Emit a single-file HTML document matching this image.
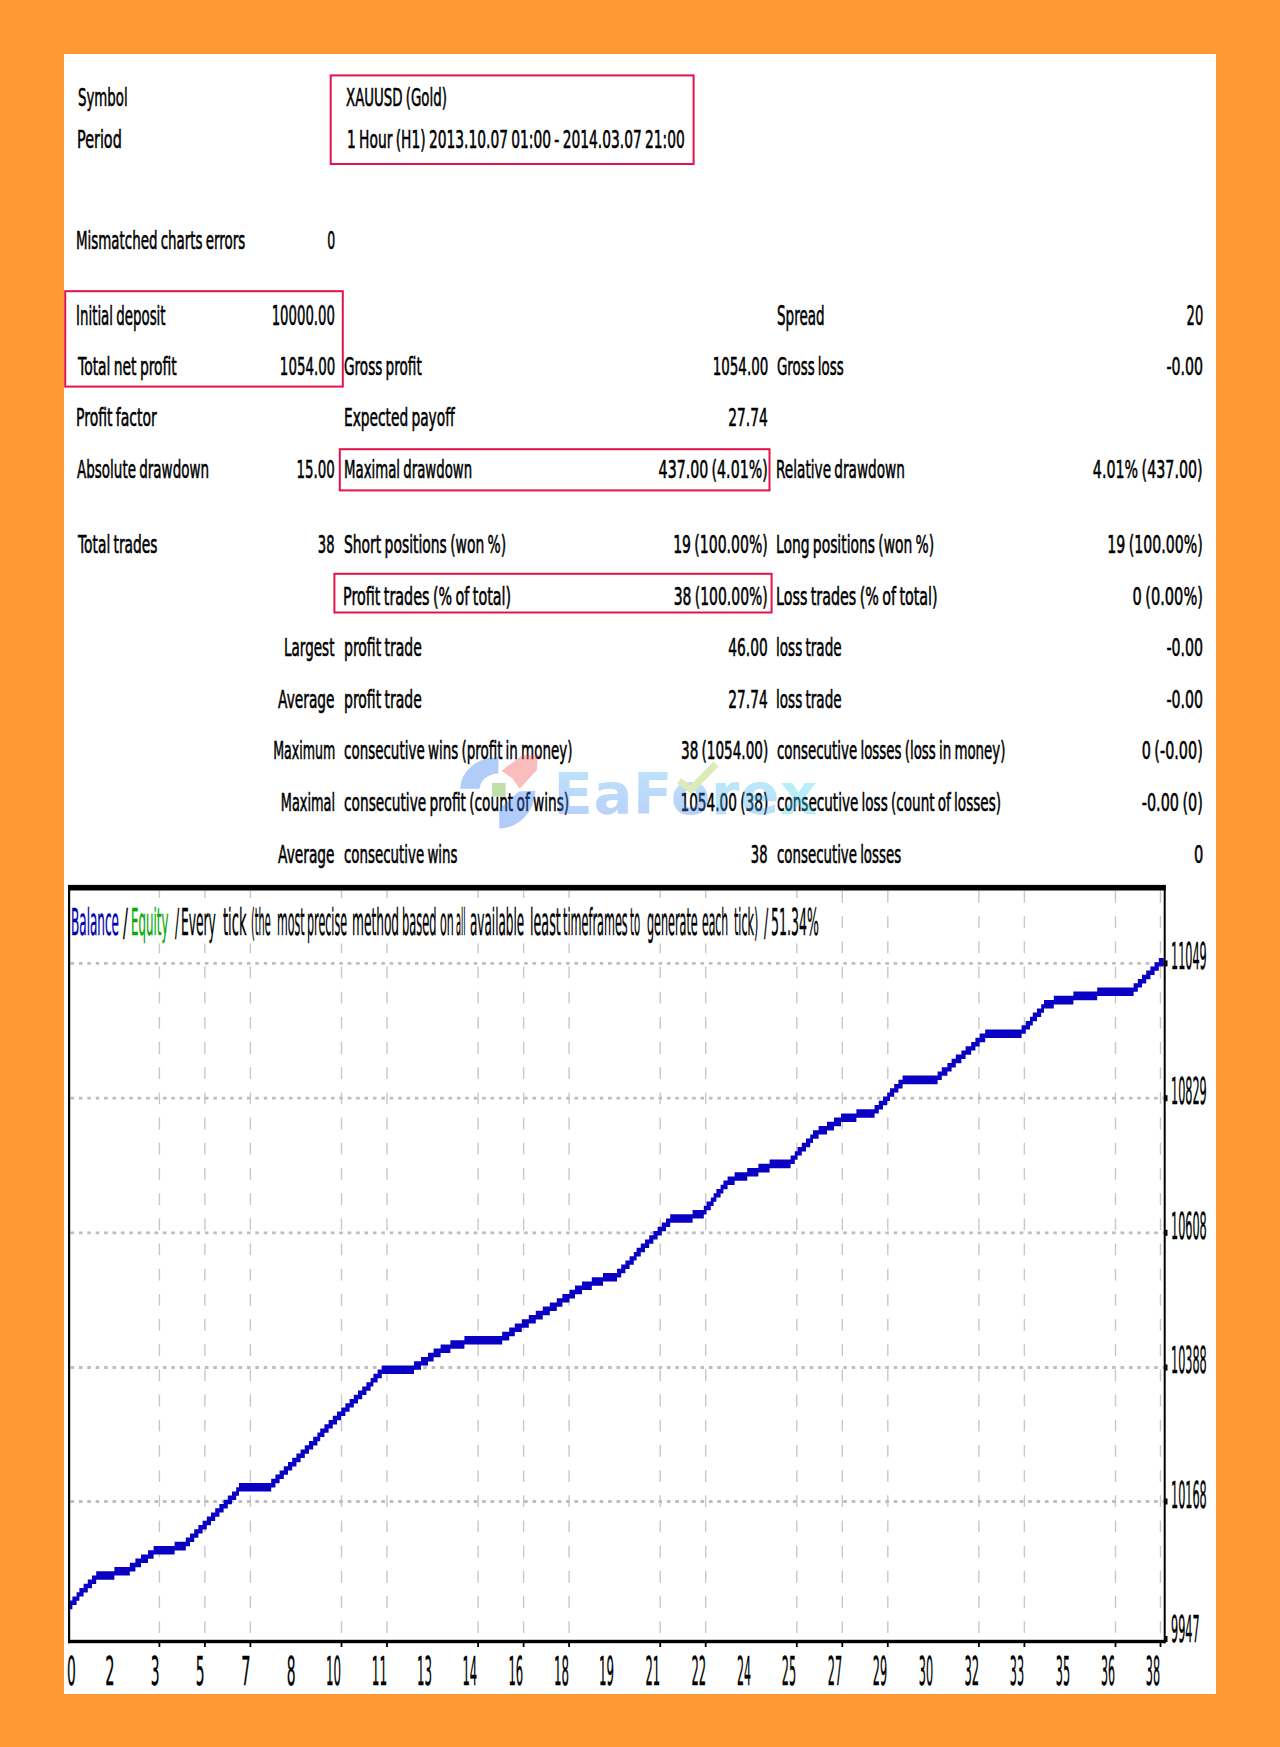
<!DOCTYPE html>
<html lang="en"><head><meta charset="utf-8"><title>Strategy Tester Report</title>
<style>
html,body{margin:0;padding:0}
body{width:1280px;height:1747px;background:#ff9933;position:relative;overflow:hidden;font-family:"DejaVu Sans", "Liberation Sans", sans-serif;color:#000}
#panel{position:absolute;left:64px;top:54px;width:1152px;height:1640px;background:#fff}
.t{position:absolute;white-space:pre;line-height:normal;transform-origin:0 0;-webkit-text-stroke:0.6px currentColor;word-spacing:-0.08em}
.t.r{transform-origin:100% 0}
.c{-webkit-text-stroke-width:.4px}
svg{position:absolute;left:0;top:0}
</style></head><body>
<div id="panel"></div>

<svg width="1280" height="1747" viewBox="0 0 1280 1747">
<rect x="330.70" y="75.40" width="362.90" height="88.60" fill="none" stroke="#e3124a" stroke-width="2.0"/>
<rect x="65.20" y="291.20" width="277.60" height="95.40" fill="none" stroke="#e3124a" stroke-width="2.0"/>
<rect x="339.80" y="449.20" width="429.70" height="41.20" fill="none" stroke="#e3124a" stroke-width="2.0"/>
<rect x="334.40" y="573.80" width="437.20" height="38.70" fill="none" stroke="#e3124a" stroke-width="2.0"/>
</svg>
<div class="t" style="left:77.61px;top:83.7px;font-size:24.0px;transform:scaleX(0.5553);">Symbol</div>
<div class="t" style="left:346.17px;top:83.7px;font-size:24.0px;transform:scaleX(0.5566);">XAUUSD (Gold)</div>
<div class="t" style="left:76.98px;top:126.0px;font-size:24.0px;transform:scaleX(0.5983);">Period</div>
<div class="t" style="left:346.52px;top:126.0px;font-size:24.0px;transform:scaleX(0.5756);">1 Hour (H1) 2013.10.07 01:00 - 2014.03.07 21:00</div>
<div class="t" style="left:75.55px;top:226.7px;font-size:24.0px;transform:scaleX(0.5589);">Mismatched charts errors</div>
<div class="t r" style="right:944.99px;top:226.7px;font-size:24.0px;transform:scaleX(0.5221);">0</div>
<div class="t" style="left:76.04px;top:300.6px;font-size:26.2px;transform:scaleX(0.5112);">Initial deposit</div>
<div class="t r" style="right:944.95px;top:300.6px;font-size:26.2px;transform:scaleX(0.5064);">10000.00</div>
<div class="t" style="left:776.59px;top:300.6px;font-size:26.2px;transform:scaleX(0.5165);">Spread</div>
<div class="t r" style="right:76.95px;top:300.6px;font-size:26.2px;transform:scaleX(0.5022);">20</div>
<div class="t" style="left:77.75px;top:352.7px;font-size:24.0px;transform:scaleX(0.5791);">Total net profit</div>
<div class="t r" style="right:944.96px;top:352.7px;font-size:24.0px;transform:scaleX(0.5581);">1054.00</div>
<div class="t" style="left:344.10px;top:352.7px;font-size:24.0px;transform:scaleX(0.5671);">Gross profit</div>
<div class="t r" style="right:512.06px;top:352.7px;font-size:24.0px;transform:scaleX(0.5591);">1054.00</div>
<div class="t" style="left:776.61px;top:352.7px;font-size:24.0px;transform:scaleX(0.5573);">Gross loss</div>
<div class="t r" style="right:76.93px;top:352.7px;font-size:24.0px;transform:scaleX(0.5908);">-0.00</div>
<div class="t" style="left:76.01px;top:404.2px;font-size:24.0px;transform:scaleX(0.5832);">Profit factor</div>
<div class="t" style="left:343.53px;top:404.2px;font-size:24.0px;transform:scaleX(0.5731);">Expected payoff</div>
<div class="t r" style="right:512.04px;top:404.2px;font-size:24.0px;transform:scaleX(0.5758);">27.74</div>
<div class="t" style="left:77.17px;top:455.7px;font-size:24.0px;transform:scaleX(0.5624);">Absolute drawdown</div>
<div class="t r" style="right:944.96px;top:455.7px;font-size:24.0px;transform:scaleX(0.5573);">15.00</div>
<div class="t" style="left:343.56px;top:455.7px;font-size:24.0px;transform:scaleX(0.5549);">Maximal drawdown</div>
<div class="t r" style="right:511.97px;top:455.7px;font-size:24.0px;transform:scaleX(0.5905);">437.00 (4.01%)</div>
<div class="t" style="left:776.03px;top:455.7px;font-size:24.0px;transform:scaleX(0.5686);">Relative drawdown</div>
<div class="t r" style="right:76.87px;top:455.7px;font-size:24.0px;transform:scaleX(0.5949);">4.01% (437.00)</div>
<div class="t" style="left:77.75px;top:531.2px;font-size:24.0px;transform:scaleX(0.5748);">Total trades</div>
<div class="t r" style="right:944.97px;top:531.2px;font-size:24.0px;transform:scaleX(0.5473);">38</div>
<div class="t" style="left:344.09px;top:531.2px;font-size:24.0px;transform:scaleX(0.5787);">Short positions (won %)</div>
<div class="t r" style="right:511.98px;top:531.2px;font-size:24.0px;transform:scaleX(0.5849);">19 (100.00%)</div>
<div class="t" style="left:776.02px;top:531.2px;font-size:24.0px;transform:scaleX(0.5777);">Long positions (won %)</div>
<div class="t r" style="right:76.87px;top:531.2px;font-size:24.0px;transform:scaleX(0.5900);">19 (100.00%)</div>
<div class="t" style="left:343.48px;top:582.9px;font-size:24.0px;transform:scaleX(0.5974);">Profit trades (% of total)</div>
<div class="t r" style="right:511.98px;top:582.9px;font-size:24.0px;transform:scaleX(0.5813);">38 (100.00%)</div>
<div class="t" style="left:775.99px;top:582.9px;font-size:24.0px;transform:scaleX(0.5954);">Loss trades (% of total)</div>
<div class="t r" style="right:76.85px;top:582.9px;font-size:24.0px;transform:scaleX(0.6078);">0 (0.00%)</div>
<div class="t r" style="right:945.34px;top:634.4px;font-size:24.0px;transform:scaleX(0.5638);">Largest</div>
<div class="t" style="left:343.51px;top:634.4px;font-size:24.0px;transform:scaleX(0.5826);">profit trade</div>
<div class="t r" style="right:512.04px;top:634.4px;font-size:24.0px;transform:scaleX(0.5728);">46.00</div>
<div class="t" style="left:776.04px;top:634.4px;font-size:24.0px;transform:scaleX(0.5655);">loss trade</div>
<div class="t r" style="right:76.93px;top:634.4px;font-size:24.0px;transform:scaleX(0.5908);">-0.00</div>
<div class="t r" style="right:945.13px;top:685.8px;font-size:24.0px;transform:scaleX(0.5732);">Average</div>
<div class="t" style="left:343.51px;top:685.8px;font-size:24.0px;transform:scaleX(0.5826);">profit trade</div>
<div class="t r" style="right:512.04px;top:685.8px;font-size:24.0px;transform:scaleX(0.5728);">27.74</div>
<div class="t" style="left:776.04px;top:685.8px;font-size:24.0px;transform:scaleX(0.5655);">loss trade</div>
<div class="t r" style="right:76.93px;top:685.8px;font-size:24.0px;transform:scaleX(0.5908);">-0.00</div>
<div class="t r" style="right:944.83px;top:737.4px;font-size:24.0px;transform:scaleX(0.5248);">Maximum</div>
<div class="t" style="left:344.11px;top:737.4px;font-size:24.0px;transform:scaleX(0.5610);">consecutive wins (profit in money)</div>
<div class="t r" style="right:512.00px;top:737.4px;font-size:24.0px;transform:scaleX(0.5654);">38 (1054.00)</div>
<div class="t" style="left:776.61px;top:737.4px;font-size:24.0px;transform:scaleX(0.5580);">consecutive losses (loss in money)</div>
<div class="t r" style="right:76.86px;top:737.4px;font-size:24.0px;transform:scaleX(0.5998);">0 (-0.00)</div>
<div class="t r" style="right:944.67px;top:789.1px;font-size:24.0px;transform:scaleX(0.5369);">Maximal</div>
<div class="t" style="left:344.10px;top:789.1px;font-size:24.0px;transform:scaleX(0.5716);">consecutive profit (count of wins)</div>
<div class="t r" style="right:511.99px;top:789.1px;font-size:24.0px;transform:scaleX(0.5691);">1054.00 (38)</div>
<div class="t" style="left:776.60px;top:789.1px;font-size:24.0px;transform:scaleX(0.5654);">consecutive loss (count of losses)</div>
<div class="t r" style="right:76.86px;top:789.1px;font-size:24.0px;transform:scaleX(0.5998);">-0.00 (0)</div>
<div class="t r" style="right:945.13px;top:840.5px;font-size:24.0px;transform:scaleX(0.5732);">Average</div>
<div class="t" style="left:344.11px;top:840.5px;font-size:24.0px;transform:scaleX(0.5577);">consecutive wins</div>
<div class="t r" style="right:512.07px;top:840.5px;font-size:24.0px;transform:scaleX(0.5473);">38</div>
<div class="t" style="left:776.61px;top:840.5px;font-size:24.0px;transform:scaleX(0.5561);">consecutive losses</div>
<div class="t r" style="right:76.91px;top:840.5px;font-size:24.0px;transform:scaleX(0.6103);">0</div>
<svg width="1280" height="1747" viewBox="0 0 1280 1747">
<line x1="159.4" y1="891" x2="159.4" y2="1640" stroke="#c8c8c8" stroke-width="1.4" stroke-dasharray="11.8 13.38"/>
<line x1="204.9" y1="891" x2="204.9" y2="1640" stroke="#c8c8c8" stroke-width="1.4" stroke-dasharray="11.8 13.38"/>
<line x1="250.4" y1="891" x2="250.4" y2="1640" stroke="#c8c8c8" stroke-width="1.4" stroke-dasharray="11.8 13.38"/>
<line x1="341.5" y1="891" x2="341.5" y2="1640" stroke="#c8c8c8" stroke-width="1.4" stroke-dasharray="11.8 13.38"/>
<line x1="387.0" y1="891" x2="387.0" y2="1640" stroke="#c8c8c8" stroke-width="1.4" stroke-dasharray="11.8 13.38"/>
<line x1="478.1" y1="891" x2="478.1" y2="1640" stroke="#c8c8c8" stroke-width="1.4" stroke-dasharray="11.8 13.38"/>
<line x1="523.6" y1="891" x2="523.6" y2="1640" stroke="#c8c8c8" stroke-width="1.4" stroke-dasharray="11.8 13.38"/>
<line x1="569.1" y1="891" x2="569.1" y2="1640" stroke="#c8c8c8" stroke-width="1.4" stroke-dasharray="11.8 13.38"/>
<line x1="660.2" y1="891" x2="660.2" y2="1640" stroke="#c8c8c8" stroke-width="1.4" stroke-dasharray="11.8 13.38"/>
<line x1="705.7" y1="891" x2="705.7" y2="1640" stroke="#c8c8c8" stroke-width="1.4" stroke-dasharray="11.8 13.38"/>
<line x1="796.8" y1="891" x2="796.8" y2="1640" stroke="#c8c8c8" stroke-width="1.4" stroke-dasharray="11.8 13.38"/>
<line x1="842.3" y1="891" x2="842.3" y2="1640" stroke="#c8c8c8" stroke-width="1.4" stroke-dasharray="11.8 13.38"/>
<line x1="887.8" y1="891" x2="887.8" y2="1640" stroke="#c8c8c8" stroke-width="1.4" stroke-dasharray="11.8 13.38"/>
<line x1="978.9" y1="891" x2="978.9" y2="1640" stroke="#c8c8c8" stroke-width="1.4" stroke-dasharray="11.8 13.38"/>
<line x1="1024.4" y1="891" x2="1024.4" y2="1640" stroke="#c8c8c8" stroke-width="1.4" stroke-dasharray="11.8 13.38"/>
<line x1="1115.5" y1="891" x2="1115.5" y2="1640" stroke="#c8c8c8" stroke-width="1.4" stroke-dasharray="11.8 13.38"/>
<line x1="1160.5" y1="891" x2="1160.5" y2="1640" stroke="#c8c8c8" stroke-width="1.4" stroke-dasharray="11.8 13.38"/>
<rect x="70.5" y="898" width="752" height="45.5" fill="#fff"/>
<line x1="70.5" y1="963.4" x2="1164" y2="963.4" stroke="#bebebe" stroke-width="2.8" stroke-dasharray="3.6 4.8"/>
<line x1="70.5" y1="1098.2" x2="1164" y2="1098.2" stroke="#bebebe" stroke-width="2.8" stroke-dasharray="3.6 4.8"/>
<line x1="70.5" y1="1232.8" x2="1164" y2="1232.8" stroke="#bebebe" stroke-width="2.8" stroke-dasharray="3.6 4.8"/>
<line x1="70.5" y1="1367.5" x2="1164" y2="1367.5" stroke="#bebebe" stroke-width="2.8" stroke-dasharray="3.6 4.8"/>
<line x1="70.5" y1="1501.5" x2="1164" y2="1501.5" stroke="#bebebe" stroke-width="2.8" stroke-dasharray="3.6 4.8"/>
<path fill="#0a00c4" d="M69.6,1600.6H72.4V1596.4H76.6V1592.2H79.4V1588.0H83.6V1583.8H87.8V1579.6H92.0V1575.4H96.2V1571.2H114.4V1567.0H129.8V1562.8H135.4V1558.6H141.0V1554.4H148.0V1550.2H153.6V1546.0H174.6V1541.8H185.8V1537.6H190.0V1533.4H194.2V1529.2H198.4V1525.0H202.6V1520.8H206.8V1516.6H211.0V1512.4H215.2V1508.2H219.4V1504.0H223.6V1499.8H227.8V1495.6H232.0V1491.4H236.2V1487.2H239.0V1483.0H271.2V1478.8H275.4V1474.6H279.6V1470.4H283.8V1466.2H288.0V1462.0H292.2V1457.8H296.4V1453.6H300.6V1449.4H304.8V1445.2H309.0V1441.0H313.2V1436.8H317.4V1432.6H320.2V1428.4H324.4V1424.2H328.6V1420.0H332.8V1415.8H337.0V1411.6H341.2V1407.4H345.4V1403.2H349.6V1399.0H353.8V1394.8H358.0V1390.6H362.2V1386.4H366.4V1382.2H370.6V1378.0H373.4V1373.8H377.6V1369.6H381.8V1365.4H414.0V1361.2H421.0V1357.0H428.0V1352.8H433.6V1348.6H440.6V1344.4H450.4V1340.2H464.4V1336.0H502.2V1331.8H509.2V1327.6H514.8V1323.4H521.8V1319.2H528.8V1315.0H535.8V1310.8H542.8V1306.6H549.8V1302.4H556.8V1298.2H562.4V1294.0H569.4V1289.8H575.0V1285.6H582.0V1281.4H591.8V1277.2H603.0V1273.0H617.0V1268.8H621.2V1264.6H625.4V1260.4H629.6V1256.2H633.8V1252.0H636.6V1247.8H640.8V1243.6H645.0V1239.4H649.2V1235.2H653.4V1231.0H657.6V1226.8H661.8V1222.6H666.0V1218.4H670.2V1214.2H692.6V1210.0H703.8V1205.8H706.6V1201.6H710.8V1197.4H713.6V1193.2H716.4V1189.0H720.6V1184.8H723.4V1180.6H727.6V1176.4H734.6V1172.2H747.2V1168.0H758.4V1163.8H769.6V1159.6H790.6V1155.4H794.8V1151.2H797.6V1147.0H801.8V1142.8H806.0V1138.6H810.2V1134.4H813.0V1130.2H818.6V1126.0H827.0V1121.8H834.0V1117.6H841.0V1113.4H856.4V1109.2H874.6V1105.0H878.8V1100.8H883.0V1096.6H887.2V1092.4H890.0V1088.2H894.2V1084.0H898.4V1079.8H902.6V1075.6H937.6V1071.4H941.8V1067.2H947.4V1063.0H951.6V1058.8H955.8V1054.6H961.4V1050.4H965.6V1046.2H971.2V1042.0H975.4V1037.8H979.6V1033.6H985.2V1029.4H1021.6V1025.2H1025.8V1021.0H1030.0V1016.8H1032.8V1012.6H1037.0V1008.4H1041.2V1004.2H1044.0V1000.0H1053.8V995.8H1073.4V991.6H1097.2V987.4H1133.6V983.2H1137.8V979.0H1142.0V974.8H1146.2V970.6H1150.4V966.4H1154.6V962.2H1158.8V958.0H1163.8V966.6H1158.8V970.8H1154.6V975.0H1150.4V979.2H1146.2V983.4H1142.0V987.6H1137.8V991.8H1133.6V996.0H1097.2V1000.2H1073.4V1004.4H1053.8V1008.6H1044.0V1012.8H1041.2V1017.0H1037.0V1021.2H1032.8V1025.4H1030.0V1029.6H1025.8V1033.8H1021.6V1038.0H985.2V1042.2H979.6V1046.4H975.4V1050.6H971.2V1054.8H965.6V1059.0H961.4V1063.2H955.8V1067.4H951.6V1071.6H947.4V1075.8H941.8V1080.0H937.6V1084.2H902.6V1088.4H898.4V1092.6H894.2V1096.8H890.0V1101.0H887.2V1105.2H883.0V1109.4H878.8V1113.6H874.6V1117.8H856.4V1122.0H841.0V1126.2H834.0V1130.4H827.0V1134.6H818.6V1138.8H813.0V1143.0H810.2V1147.2H806.0V1151.4H801.8V1155.6H797.6V1159.8H794.8V1164.0H790.6V1168.2H769.6V1172.4H758.4V1176.6H747.2V1180.8H734.6V1185.0H727.6V1189.2H723.4V1193.4H720.6V1197.6H716.4V1201.8H713.6V1206.0H710.8V1210.2H706.6V1214.4H703.8V1218.6H692.6V1222.8H670.2V1227.0H666.0V1231.2H661.8V1235.4H657.6V1239.6H653.4V1243.8H649.2V1248.0H645.0V1252.2H640.8V1256.4H636.6V1260.6H633.8V1264.8H629.6V1269.0H625.4V1273.2H621.2V1277.4H617.0V1281.6H603.0V1285.8H591.8V1290.0H582.0V1294.2H575.0V1298.4H569.4V1302.6H562.4V1306.8H556.8V1311.0H549.8V1315.2H542.8V1319.4H535.8V1323.6H528.8V1327.8H521.8V1332.0H514.8V1336.2H509.2V1340.4H502.2V1344.6H464.4V1348.8H450.4V1353.0H440.6V1357.2H433.6V1361.4H428.0V1365.6H421.0V1369.8H414.0V1374.0H381.8V1378.2H377.6V1382.4H373.4V1386.6H370.6V1390.8H366.4V1395.0H362.2V1399.2H358.0V1403.4H353.8V1407.6H349.6V1411.8H345.4V1416.0H341.2V1420.2H337.0V1424.4H332.8V1428.6H328.6V1432.8H324.4V1437.0H320.2V1441.2H317.4V1445.4H313.2V1449.6H309.0V1453.8H304.8V1458.0H300.6V1462.2H296.4V1466.4H292.2V1470.6H288.0V1474.8H283.8V1479.0H279.6V1483.2H275.4V1487.4H271.2V1491.6H239.0V1495.8H236.2V1500.0H232.0V1504.2H227.8V1508.4H223.6V1512.6H219.4V1516.8H215.2V1521.0H211.0V1525.2H206.8V1529.4H202.6V1533.6H198.4V1537.8H194.2V1542.0H190.0V1546.2H185.8V1550.4H174.6V1554.6H153.6V1558.8H148.0V1563.0H141.0V1567.2H135.4V1571.4H129.8V1575.6H114.4V1579.8H96.2V1584.0H92.0V1588.2H87.8V1592.4H83.6V1596.6H79.4V1600.8H76.6V1605.0H72.4V1609.2H69.6Z"/>
<rect x="68" y="884.9" width="1097.7" height="5.6" fill="#000"/>
<rect x="68" y="885" width="2.2" height="758.2" fill="#000"/>
<rect x="1163.7" y="885" width="2.0" height="758.2" fill="#000"/>
<rect x="68" y="1639.8" width="1097.7" height="3.4" fill="#000"/>
<rect x="158.5" y="1643" width="1.8" height="4" fill="#000"/>
<rect x="204.0" y="1643" width="1.8" height="4" fill="#000"/>
<rect x="249.5" y="1643" width="1.8" height="4" fill="#000"/>
<rect x="340.6" y="1643" width="1.8" height="4" fill="#000"/>
<rect x="386.1" y="1643" width="1.8" height="4" fill="#000"/>
<rect x="477.2" y="1643" width="1.8" height="4" fill="#000"/>
<rect x="522.7" y="1643" width="1.8" height="4" fill="#000"/>
<rect x="568.2" y="1643" width="1.8" height="4" fill="#000"/>
<rect x="659.3" y="1643" width="1.8" height="4" fill="#000"/>
<rect x="704.8" y="1643" width="1.8" height="4" fill="#000"/>
<rect x="795.9" y="1643" width="1.8" height="4" fill="#000"/>
<rect x="841.4" y="1643" width="1.8" height="4" fill="#000"/>
<rect x="886.9" y="1643" width="1.8" height="4" fill="#000"/>
<rect x="978.0" y="1643" width="1.8" height="4" fill="#000"/>
<rect x="1023.5" y="1643" width="1.8" height="4" fill="#000"/>
<rect x="1114.6" y="1643" width="1.8" height="4" fill="#000"/>
<rect x="1159.6" y="1643" width="1.8" height="4" fill="#000"/>
<rect x="1165.2" y="960.4" width="2.3" height="6" fill="#000"/>
<rect x="1165.2" y="1095.2" width="2.3" height="6" fill="#000"/>
<rect x="1165.2" y="1229.8" width="2.3" height="6" fill="#000"/>
<rect x="1165.2" y="1364.5" width="2.3" height="6" fill="#000"/>
<rect x="1165.2" y="1498.5" width="2.3" height="6" fill="#000"/>
<rect x="1165.2" y="1636.0" width="2.3" height="6" fill="#000"/>
</svg>
<div id="chart-title">
<div class="t c" style="left:70.93px;top:900.2px;font-size:37.5px;transform:scaleX(0.3210);color:#0000b0;">Balance</div>
<div class="t c" style="left:122.82px;top:900.2px;font-size:37.5px;transform:scaleX(0.3897);color:#000;">/</div>
<div class="t c" style="left:131.25px;top:900.2px;font-size:37.5px;transform:scaleX(0.3156);color:#08a808;">Equity</div>
<div class="t c" style="left:175.10px;top:900.2px;font-size:37.5px;transform:scaleX(0.3309);color:#000;">/</div>
<div class="t c" style="left:180.62px;top:900.2px;font-size:37.5px;transform:scaleX(0.3270);color:#000;">Every</div>
<div class="t c" style="left:223.16px;top:900.2px;font-size:37.5px;transform:scaleX(0.3475);color:#000;">tick</div>
<div class="t c" style="left:250.80px;top:900.2px;font-size:37.5px;transform:scaleX(0.2586);color:#000;">(the</div>
<div class="t c" style="left:277.21px;top:900.2px;font-size:37.5px;transform:scaleX(0.2936);color:#000;">most</div>
<div class="t c" style="left:307.00px;top:900.2px;font-size:37.5px;transform:scaleX(0.2963);color:#000;">precise</div>
<div class="t c" style="left:352.12px;top:900.2px;font-size:37.5px;transform:scaleX(0.3252);color:#000;">method</div>
<div class="t c" style="left:402.18px;top:900.2px;font-size:37.5px;transform:scaleX(0.3047);color:#000;">based</div>
<div class="t c" style="left:440.00px;top:900.2px;font-size:37.5px;transform:scaleX(0.2938);color:#000;">on</div>
<div class="t c" style="left:456.13px;top:900.2px;font-size:37.5px;transform:scaleX(0.2180);color:#000;">all</div>
<div class="t c" style="left:470.46px;top:900.2px;font-size:37.5px;transform:scaleX(0.3202);color:#000;">available</div>
<div class="t c" style="left:529.68px;top:900.2px;font-size:37.5px;transform:scaleX(0.3390);color:#000;">least</div>
<div class="t c" style="left:563.19px;top:900.2px;font-size:37.5px;transform:scaleX(0.3002);color:#000;">timeframes</div>
<div class="t c" style="left:629.81px;top:900.2px;font-size:37.5px;transform:scaleX(0.2691);color:#000;">to</div>
<div class="t c" style="left:647.29px;top:900.2px;font-size:37.5px;transform:scaleX(0.2987);color:#000;">generate</div>
<div class="t c" style="left:702.01px;top:900.2px;font-size:37.5px;transform:scaleX(0.2898);color:#000;">each</div>
<div class="t c" style="left:733.59px;top:900.2px;font-size:37.5px;transform:scaleX(0.2960);color:#000;">tick)</div>
<div class="t c" style="left:763.50px;top:900.2px;font-size:37.5px;transform:scaleX(0.3382);color:#000;">/</div>
<div class="t c" style="left:770.73px;top:900.2px;font-size:37.5px;transform:scaleX(0.3344);color:#000;">51.34%</div>
</div>
<div class="t c" style="left:66.99px;top:1649.2px;font-size:38.6px;transform:scaleX(0.3592);color:#000;">0</div>
<div class="t c r" style="right:1165.95px;top:1649.2px;font-size:38.6px;transform:scaleX(0.3776);color:#000;">2</div>
<div class="t c r" style="right:1120.83px;top:1649.2px;font-size:38.6px;transform:scaleX(0.3592);color:#000;">3</div>
<div class="t c r" style="right:1075.30px;top:1649.2px;font-size:38.6px;transform:scaleX(0.3592);color:#000;">5</div>
<div class="t c r" style="right:1029.73px;top:1649.2px;font-size:38.6px;transform:scaleX(0.3776);color:#000;">7</div>
<div class="t c r" style="right:984.24px;top:1649.2px;font-size:38.6px;transform:scaleX(0.3592);color:#000;">8</div>
<div class="t c r" style="right:938.83px;top:1649.2px;font-size:38.6px;transform:scaleX(0.3059);color:#000;">10</div>
<div class="t c r" style="right:892.97px;top:1649.2px;font-size:38.6px;transform:scaleX(0.3132);color:#000;">11</div>
<div class="t c r" style="right:847.77px;top:1649.2px;font-size:38.6px;transform:scaleX(0.3059);color:#000;">13</div>
<div class="t c r" style="right:802.56px;top:1649.2px;font-size:38.6px;transform:scaleX(0.2990);color:#000;">14</div>
<div class="t c r" style="right:757.03px;top:1649.2px;font-size:38.6px;transform:scaleX(0.2990);color:#000;">16</div>
<div class="t c r" style="right:711.18px;top:1649.2px;font-size:38.6px;transform:scaleX(0.3059);color:#000;">18</div>
<div class="t c r" style="right:665.65px;top:1649.2px;font-size:38.6px;transform:scaleX(0.3059);color:#000;">19</div>
<div class="t c r" style="right:619.84px;top:1649.2px;font-size:38.6px;transform:scaleX(0.2990);color:#000;">21</div>
<div class="t c r" style="right:574.31px;top:1649.2px;font-size:38.6px;transform:scaleX(0.2990);color:#000;">22</div>
<div class="t c r" style="right:529.39px;top:1649.2px;font-size:38.6px;transform:scaleX(0.2861);color:#000;">24</div>
<div class="t c r" style="right:483.56px;top:1649.2px;font-size:38.6px;transform:scaleX(0.2924);color:#000;">25</div>
<div class="t c r" style="right:438.03px;top:1649.2px;font-size:38.6px;transform:scaleX(0.2924);color:#000;">27</div>
<div class="t c r" style="right:392.50px;top:1649.2px;font-size:38.6px;transform:scaleX(0.2924);color:#000;">29</div>
<div class="t c r" style="right:346.97px;top:1649.2px;font-size:38.6px;transform:scaleX(0.2924);color:#000;">30</div>
<div class="t c r" style="right:301.13px;top:1649.2px;font-size:38.6px;transform:scaleX(0.2990);color:#000;">32</div>
<div class="t c r" style="right:255.91px;top:1649.2px;font-size:38.6px;transform:scaleX(0.2924);color:#000;">33</div>
<div class="t c r" style="right:210.38px;top:1649.2px;font-size:38.6px;transform:scaleX(0.2924);color:#000;">35</div>
<div class="t c r" style="right:165.15px;top:1649.2px;font-size:38.6px;transform:scaleX(0.2861);color:#000;">36</div>
<div class="t c r" style="right:119.84px;top:1649.2px;font-size:38.6px;transform:scaleX(0.2924);color:#000;">38</div>
<div class="t c" style="left:1170.86px;top:934.5px;font-size:36.6px;transform:scaleX(0.3072);color:#000;">11049</div>
<div class="t c" style="left:1170.86px;top:1069.5px;font-size:36.6px;transform:scaleX(0.3072);color:#000;">10829</div>
<div class="t c" style="left:1170.86px;top:1204.5px;font-size:36.6px;transform:scaleX(0.3072);color:#000;">10608</div>
<div class="t c" style="left:1170.86px;top:1339.0px;font-size:36.6px;transform:scaleX(0.3072);color:#000;">10388</div>
<div class="t c" style="left:1170.86px;top:1473.5px;font-size:36.6px;transform:scaleX(0.3072);color:#000;">10168</div>
<div class="t c" style="left:1171.48px;top:1607.5px;font-size:36.6px;transform:scaleX(0.3075);color:#000;">9947</div>
<svg width="1280" height="1747" viewBox="0 0 1280 1747" style="opacity:.36">
<defs><linearGradient id="wg" x1="0" y1="0" x2="0" y2="1"><stop offset="0" stop-color="#45c0f6"/><stop offset="1" stop-color="#4472f2"/></linearGradient><linearGradient id="wg2" x1="0" y1="0" x2="0" y2="1"><stop offset="0" stop-color="#42cdf3"/><stop offset="1" stop-color="#48a2f4"/></linearGradient></defs>
<g transform="translate(450,740) scale(0.15625)">
<path d="M65,312 A245,205 0 0 1 310,108 L310,215 A120,98 0 0 0 190,312 Z" fill="#2b74f0"/>
<path d="M330,196 L462,98 L562,98 L556,192 L446,312 L402,248 Z" fill="#f04a4a"/>
<rect x="270" y="275" width="86" height="86" fill="#4fa510"/>
<path d="M315,566 L315,442 L440,330 L546,324 A232,244 0 0 1 315,566 Z" fill="#2b74f0"/>
</g>
<text x="553.5" y="813.5" letter-spacing="0.7" font-family="&quot;DejaVu Sans&quot;, &quot;Liberation Sans&quot;, sans-serif" font-weight="700" font-size="57.6" fill="url(#wg)">EaFo<tspan fill="url(#wg2)">re</tspan><tspan fill="#3fd2ef">x</tspan></text>
<polyline points="679,781 691,789.5 716,764" fill="none" stroke="#9ccb3a" stroke-width="7" stroke-linejoin="miter"/>
</svg>
</body></html>
